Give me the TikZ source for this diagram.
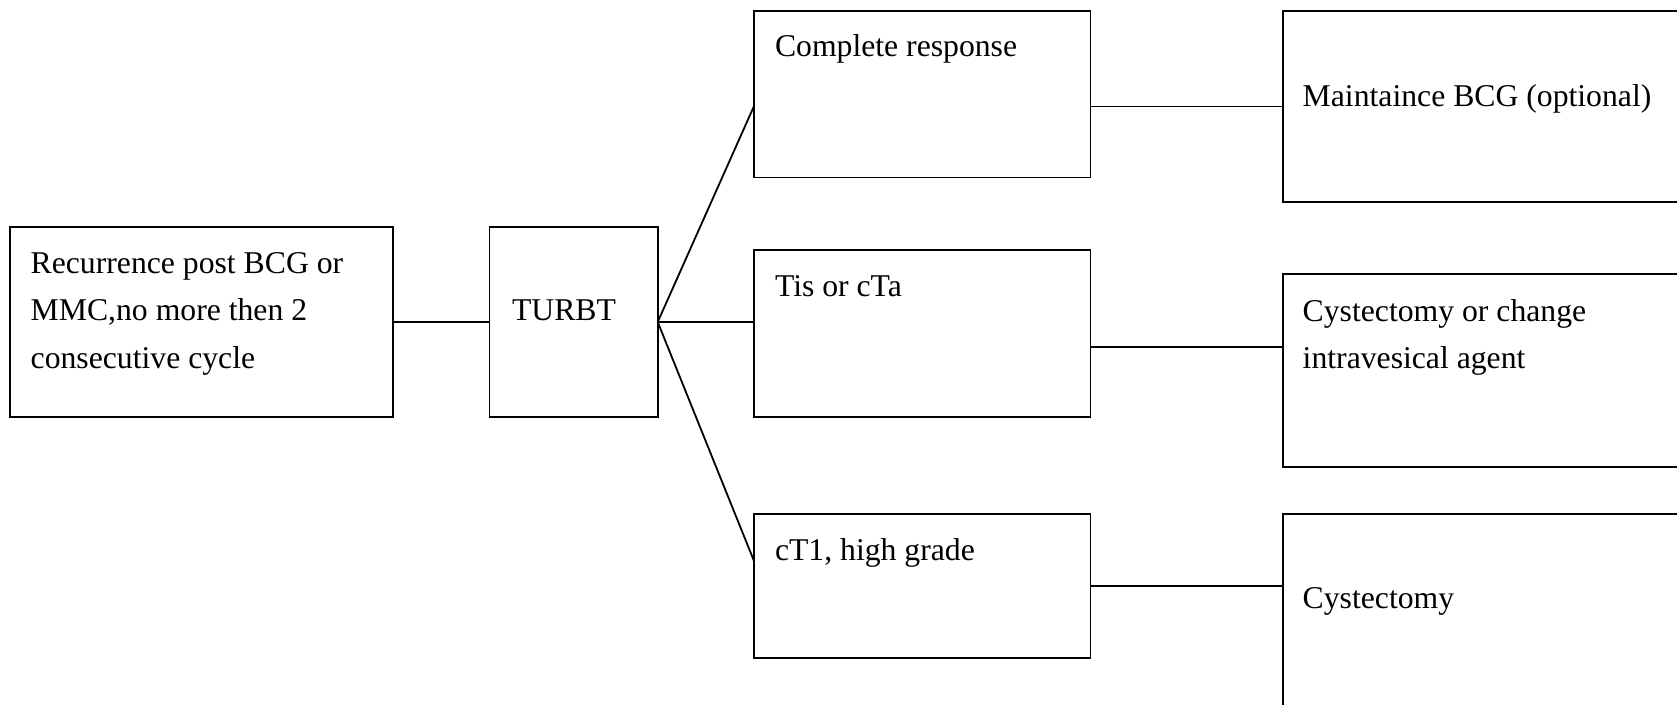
\documentclass[tikz,border=0pt]{standalone}
\usepackage{fontspec}
\setmainfont{Liberation Serif}
\usetikzlibrary{calc}

\tikzset{
  box/.style={draw, line width=1.8pt, rectangle, inner sep=0pt, outer sep=0pt},
  txt/.style={anchor=base west, inner sep=0pt, outer sep=0pt, align=left,
              font=\fontsize{31.7pt}{47.5pt}\selectfont},
  link/.style={line width=1.8pt}
}

\begin{document}
\begin{tikzpicture}[x=1pt, y=-1pt]
  % page frame
  \useasboundingbox (0,0) rectangle (1677,704);

  % boxes
  \node[box, minimum width=383pt,   minimum height=190.6pt] (rec)   at (201.5,322)    {};
  \node[box, minimum width=168.2pt, minimum height=190.6pt] (turbt) at (573.6,322)    {};
  \node[box, minimum width=336.5pt, minimum height=166.8pt] (cr)    at (922.25,94.1)  {};
  \node[box, minimum width=336.5pt, minimum height=166.8pt] (tis)   at (922.25,333.7) {};
  \node[box, minimum width=336.5pt, minimum height=143.4pt] (ct)    at (922.25,586)   {};
  \node[box, minimum width=407.3pt, minimum height=191.6pt] (mbcg)  at (1486.35,106.5) {};
  \node[box, minimum width=407.3pt, minimum height=192.4pt] (cchg)  at (1486.35,370.5) {};
  \node[box, minimum width=407.3pt, minimum height=205.7pt] (cyst)  at (1486.35,617.15) {};

  % texts (multi-line texts are placed by the baseline of their last line)
  \node[txt] (trec) at (30.7,368.3) {Recurrence post BCG or\\MMC,no more then 2\\consecutive cycle};
  \node[txt] (tturbt) at (512,320) {TURBT};
  \node[txt] (tcr)  at (775,56)  {Complete response};
  \node[txt] (ttis) at (775,296) {Tis or cTa};
  \node[txt] (tct)  at (775,560) {cT1, high grade};
  \node[txt] (tmbcg) at (1302.7,106) {Maintaince BCG (optional)};
  \node[txt] (tcchg) at (1302.7,368.5) {Cystectomy or change\\intravesical agent};
  \node[txt] (tcyst) at (1302.7,608) {Cystectomy};

  % connectors
  \draw[link] (rec.east) -- (turbt.west);
  \draw[link] (turbt.east) -- ([yshift=-12pt]cr.west);
  \draw[link] (turbt.east) -- (turbt.east -| tis.west);
  \draw[link] (turbt.east) -- ([yshift=25pt]ct.west);
  \draw[link] (mbcg.west) -- (mbcg.west -| cr.east);
  \coordinate (cchgin) at ([yshift=23.5pt]cchg.west);
  \draw[link] (cchgin) -- (cchgin -| tis.east);
  \draw[link] (ct.east) -- (ct.east -| cyst.west);
\end{tikzpicture}
\end{document}
